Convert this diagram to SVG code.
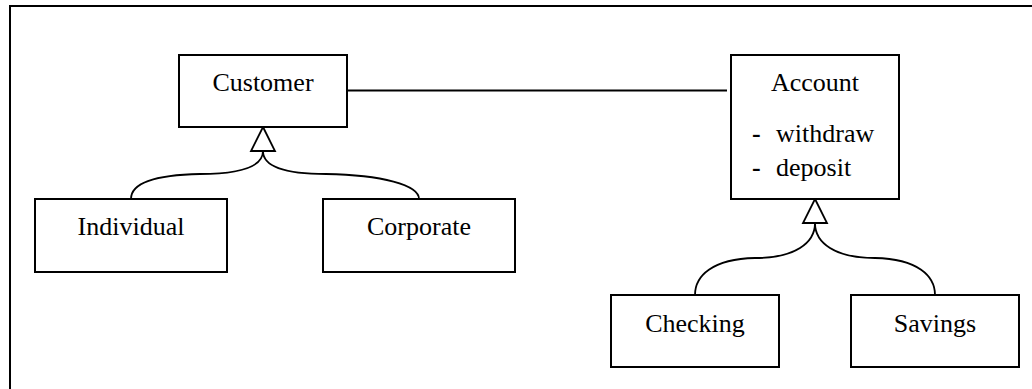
<svg xmlns="http://www.w3.org/2000/svg" width="1032" height="389" viewBox="0 0 1032 389">
<style>
.box{fill:#fff;stroke:#000;stroke-width:2}
text{font-family:"Liberation Serif","Times New Roman","DejaVu Serif",serif;font-size:26px;fill:#000}
.t{text-anchor:middle}
.d{font-weight:bold}
.c{fill:none;stroke:#000;stroke-width:1.8}
.tri{fill:#fff;stroke:#000;stroke-width:1.8}
</style>
<rect x="0" y="0" width="1032" height="389" fill="#fff"/>
<path d="M10,400 V6 H1040" fill="none" stroke="#000" stroke-width="2"/>
<g id="connectors">
<line class="c" x1="347" y1="90.5" x2="727" y2="90.5"/>
<path class="c" d="M263,151 C263,167 240,174 200,174 C150,175 131,185 131,199"/>
<path class="c" d="M263,151 C263,167 286,174 326,174 C382,175 419,185 419,199"/>
<polygon class="tri" points="263,127 275,151 251,151"/>
<path class="c" d="M815,223 C815,243 795,258 755,258 C712,259 695,276 695,295"/>
<path class="c" d="M815,223 C815,243 835,258 875,258 C918,259 935,276 935,295"/>
<polygon class="tri" points="815,199 827,223 803,223"/>
</g>
<g id="customer"><rect class="box" x="179" y="55" width="168" height="72"/><text class="t" x="263" y="91">Customer</text></g>
<g id="individual"><rect class="box" x="35" y="199" width="192" height="73"/><text class="t" x="131" y="235">Individual</text></g>
<g id="corporate"><rect class="box" x="323" y="199" width="192" height="73"/><text class="t" x="419" y="235">Corporate</text></g>
<g id="account"><rect class="box" x="731" y="55" width="168" height="144"/><text class="t" x="815" y="91">Account</text>
<text class="d" x="752" y="142">-</text><text x="776" y="142">withdraw</text>
<text class="d" x="752" y="176">-</text><text x="776" y="176">deposit</text></g>
<g id="checking"><rect class="box" x="611" y="295" width="168" height="72"/><text class="t" x="695" y="332">Checking</text></g>
<g id="savings"><rect class="box" x="851" y="295" width="168" height="72"/><text class="t" x="935" y="332">Savings</text></g>
</svg>
